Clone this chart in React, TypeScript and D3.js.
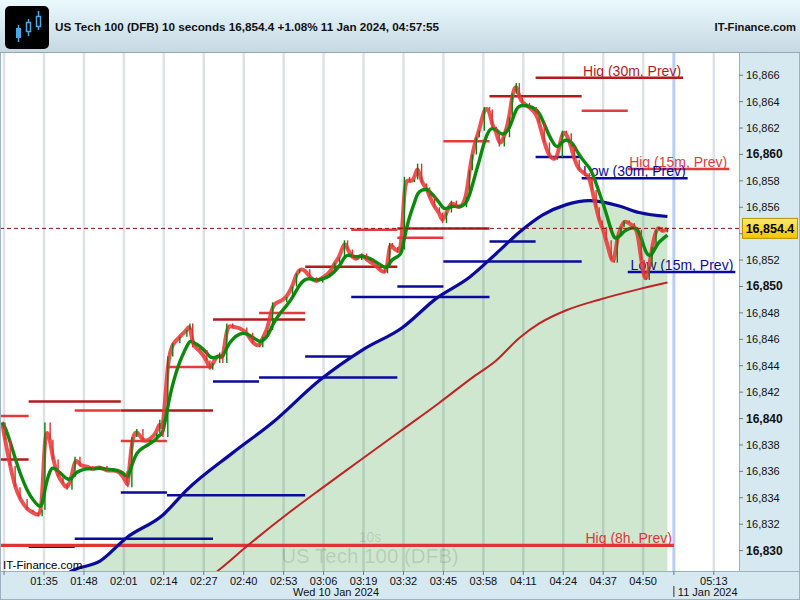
import React from 'react'
import * as d3 from 'd3'

// time values are minutes after midnight, 10 Jan 2024
const priceMinutes = [
  81.4, 82.3, 84.0, 85.6, 87.2, 89.5, 91.4, 93.1, 94.4, 95.3, 97.0, 97.9, 99.6, 101.2, 102.5, 104.1, 105.1, 106.7, 109.0, 110.9,
  113.2, 115.5, 117.4, 119.7, 122.0, 122.3, 123.6, 125.2, 127.2, 129.5, 131.7, 132.7, 133.7, 135.3, 136.9, 139.2, 141.5, 142.5, 143.4, 145.7,
  148.0, 149.0, 149.9, 152.2, 153.2, 154.5, 156.4, 158.7, 161.0,
  162.9, 165.2, 166.2, 167.8, 169.4, 171.7, 174.0, 175.9, 177.2, 178.2, 179.8, 181.5, 183.7, 185.7, 188.0, 189.6, 191.2, 192.8, 193.8, 195.4,
  196.7, 198.4, 200.0, 201.9, 204.2, 205.8, 206.8, 207.5, 208.4, 210.1, 211.4, 212.3, 214.0, 215.6, 216.6, 217.9, 219.5, 220.5, 222.1, 223.7,
  224.7, 226.0, 227.6, 229.2, 230.9, 232.5,
  233.5, 234.4, 235.7, 236.7, 238.3, 240.0, 240.9, 242.2, 243.2, 244.8, 246.5, 247.4, 248.7, 249.7, 250.7, 253.0, 255.2, 256.2, 257.8, 259.5,
  261.1, 262.1, 263.7, 265.0, 266.6, 267.6, 269.2, 270.8, 272.5, 273.4, 274.7, 275.7, 276.7, 278.0, 279.6, 280.6, 281.6, 282.8, 283.8, 285.5,
  287.1, 288.1, 289.4, 290.3, 291.0, 292.0, 292.9, 294.2, 295.2, 296.2, 297.9,
]
const priceValues = [
  16839.7, 16838.4, 16836.4, 16834.8, 16833.9, 16833.1, 16832.9, 16832.6, 16833.1, 16839.7, 16838.4, 16836.9, 16835.6, 16835.1, 16834.6, 16835.6, 16837.1, 16836.4, 16836.4, 16836.1,
  16836.4, 16836.0, 16836.1, 16836.0, 16835.1, 16834.8, 16838.6, 16839.2, 16838.2, 16838.4, 16838.9, 16839.9, 16838.6, 16844.7, 16845.7, 16846.2, 16846.7, 16847.2, 16845.4, 16845.2,
  16844.4, 16843.7, 16844.2, 16845.0, 16844.2, 16847.2, 16846.9, 16846.9, 16846.5,
  16845.7, 16845.4, 16846.2, 16846.7, 16848.8, 16848.8, 16849.2, 16850.0, 16851.0, 16851.3, 16851.3, 16850.7, 16850.3, 16850.7, 16851.0, 16851.8, 16852.2, 16853.5, 16852.8, 16852.2,
  16852.0, 16852.5, 16852.0, 16851.8, 16851.3, 16851.0, 16851.5, 16853.3, 16853.0, 16852.6, 16852.8, 16858.3, 16857.9, 16858.1, 16859.3, 16857.8, 16857.5, 16856.8, 16856.0, 16855.6,
  16854.8, 16855.6, 16856.5, 16856.0, 16856.0, 16856.8,
  16858.8, 16860.0, 16861.3, 16861.8, 16863.6, 16863.4, 16862.1, 16861.8, 16860.6, 16861.3, 16862.8, 16864.6, 16865.4, 16864.3, 16863.9, 16863.6, 16863.1, 16862.4, 16860.9, 16859.8,
  16859.6, 16859.8, 16861.8, 16861.6, 16860.6, 16859.6, 16858.8, 16858.6, 16858.3, 16857.3, 16856.0, 16855.0, 16854.5, 16853.5, 16852.0, 16851.8, 16853.8, 16854.5, 16855.0, 16854.8,
  16854.5, 16854.3, 16852.0, 16850.7, 16850.5, 16851.5, 16853.0, 16854.3, 16854.5, 16854.1, 16854.4,
]

// long moving averages (start below the visible range)
const blueMinutes = [102.2, 104.4, 113.2, 122.0, 133.7, 141.5, 156.4, 169.4, 184.7, 198.7, 211.7, 222.7, 233.5, 242.2, 249.7, 257.2, 265.0, 272.5, 282.2, 288.7, 297.9]
const blueValues = [16828.2, 16828.5, 16829.2, 16831.0, 16832.7, 16834.6, 16837.4, 16839.7, 16842.9, 16845.2, 16846.9, 16849.1, 16850.7, 16852.5, 16854.1, 16855.4, 16856.2, 16856.5, 16856.1, 16855.6, 16855.3]
const maMinutes = [149.0, 151.2, 161.9, 174.9, 184.7, 197.7, 210.7, 223.7, 234.4, 242.2, 249.7, 256.2, 265.0, 275.7, 288.7, 297.9]
const maValues = [16828.0, 16828.4, 16830.5, 16832.9, 16834.6, 16836.8, 16839.0, 16841.2, 16843.1, 16844.4, 16846.1, 16847.2, 16848.2, 16849.0, 16849.8, 16850.3]

// previous-period levels: [from, to, price, label]
const high15: [number, number, number, string?][] = [
  [75, 90, 16840.2], [105, 120, 16840.6], [120, 135, 16838.3], [135, 150, 16843.9], [165, 180, 16848.0],
  [195, 210, 16854.3], [210, 225, 16853.7], [225, 240, 16861.0], [270, 285, 16863.3], [285, 318, 16858.9, 'Hig (15m, Prev)'],
]
const high30: [number, number, number, string?][] = [
  [60, 90, 16836.9], [90, 120, 16841.3], [120, 150, 16840.6], [150, 180, 16847.5], [180, 210, 16851.5],
  [210, 240, 16854.4], [240, 270, 16864.4], [255, 303, 16865.8, 'Hig (30m, Prev)'],
]
const lows: [number, number, number, string?][] = [
  [90, 105, 16830.3], [105, 150, 16830.9], [120, 135, 16834.4], [135, 180, 16834.2], [150, 165, 16842.8],
  [165, 210, 16843.1], [180, 195, 16844.7], [195, 240, 16849.2], [210, 225, 16850.0], [225, 270, 16851.9],
  [240, 255, 16853.4], [255, 270, 16859.8], [270, 304.5, 16858.2, 'Low (30m, Prev)'], [285, 320, 16851.1, 'Low (15m, Prev)'],
]
const high8h: [number, number, number, string?][] = [[75, 300, 16830.4, 'Hig (8h, Prev)']]

const timeTicks = ['01:22', '01:35', '01:48', '02:01', '02:14', '02:27', '02:40', '02:53', '03:06', '03:19', '03:32', '03:45', '03:58', '04:11', '04:24', '04:37', '04:50', '05:13']
const priceTicks = [16830, 16832, 16834, 16836, 16838, 16840, 16842, 16844, 16846, 16848, 16850, 16852, 16854, 16856, 16858, 16860, 16862, 16864, 16866]
const dayBreak = '05:00'

const FONT = '"Liberation Sans", Arial, sans-serif'
const plotTop = 53
const plotBottom = 571
const plotRight = 739

const day = Date.UTC(2024, 0, 10)
const at = (m: number) => new Date(day + m * 60000)
const parseTime = d3.utcParse('%Y-%m-%d %H:%M')

const App = () => {
  const x = d3.scaleUtc().domain([at(80.68), at(321.2)]).range([0, plotRight])
  const y = d3.scaleLinear().domain([16830, 16866]).range([550.6, 75.2])

  const price = priceMinutes.map((m, i) => ({ t: at(m), v: priceValues[i] }))
  // slow exponential average of the closes, as the chart's green line
  let ema = priceValues[0]
  const slow = priceMinutes.map((m, i) => {
    if (i > 0) {
      const a = 1 - Math.exp(-(m - priceMinutes[i - 1]) / 3.5)
      ema = ema + a * (priceValues[i] - ema)
    }
    return { t: at(m), v: ema }
  })
  const blue = blueMinutes.map((m, i) => ({ t: at(m), v: blueValues[i] }))
  const ma = maMinutes.map((m, i) => ({ t: at(m), v: maValues[i] }))

  const line = d3.line<{ t: Date; v: number }>().x(d => x(d.t)).y(d => y(d.v)).curve(d3.curveMonotoneX)
  const smooth = d3.line<{ t: Date; v: number }>().x(d => x(d.t)).y(d => y(d.v)).curve(d3.curveBasis)
  const area = d3.area<{ t: Date; v: number }>().x(d => x(d.t)).y0(plotBottom).y1(d => y(d.v)).curve(d3.curveMonotoneX)

  const ticks = timeTicks.map(s => parseTime('2024-01-10 ' + s) as Date)
  const breakX = x(parseTime('2024-01-10 ' + dayBreak) as Date)
  const last = priceValues[priceValues.length - 1]

  const levels = (rows: [number, number, number, string?][], color: string, width: number) =>
    rows.map((r, i) => (
      <g key={i}>
        <line x1={x(at(r[0]))} x2={x(at(r[1]))} y1={y(r[2])} y2={y(r[2])} stroke={color} strokeWidth={width} />
        {r[3] && (
          <text x={x(at(r[1])) - 2} y={y(r[2]) - 2} textAnchor="end" fontSize={14} fill={color}>
            {r[3]}
          </text>
        )}
      </g>
    ))

  return (
    <svg width={800} height={600} style={{ position: 'absolute', left: 0, top: 0, fontFamily: FONT }}>
      <defs>
        <linearGradient id="hdr" x1="0" y1="0" x2="0" y2="1">
          <stop offset="0" stopColor="#eaf9fe" />
          <stop offset="1" stopColor="#c6d8e2" />
        </linearGradient>
        <linearGradient id="tag" x1="0" y1="0" x2="0" y2="1">
          <stop offset="0" stopColor="#ffe96a" />
          <stop offset="1" stopColor="#f7c400" />
        </linearGradient>
        <clipPath id="plot">
          <rect x={0} y={plotTop} width={plotRight} height={plotBottom - plotTop} />
        </clipPath>
      </defs>

      <rect width={800} height={600} fill="#fff" />

      <g clipPath="url(#plot)">
        {ticks.map((t, i) => (
          <line key={i} x1={x(t)} x2={x(t)} y1={plotTop} y2={plotBottom} stroke="#dde1e8" strokeWidth={2.5} />
        ))}
        <line x1={breakX} x2={breakX} y1={plotTop} y2={plotBottom} stroke="#b7cff7" strokeWidth={3} />

        <path d={area(blue) as string} fill="rgba(0,128,0,0.19)" />

        <text x={370} y={542} textAnchor="middle" fontSize={14} fill="#000" fillOpacity={0.12}>10s</text>
        <text x={370} y={563} textAnchor="middle" fontSize={20.5} fill="#000" fillOpacity={0.12}>US Tech 100 (DFB)</text>

        {levels(high30, '#b31b1b', 2.5)}
        {levels(high15, '#e43a3a', 2.5)}
        {levels(lows, '#0a0a9e', 2.5)}
        {levels(high8h, '#e03434', 3.2)}

        <path d={line(ma) as string} fill="none" stroke="#c42222" strokeWidth={2} />
        <path d={line(blue) as string} fill="none" stroke="#0a0a9e" strokeWidth={3.2} />

        <path d={smooth(price) as string} fill="none" stroke="#e83a3a" strokeWidth={4} strokeOpacity={0.88} strokeLinejoin="round" />
        <path d={smooth(slow) as string} fill="none" stroke="#0c8a0c" strokeWidth={3.4} strokeLinejoin="round" />
        {price.slice(1).map((d, i) => {
          const prev = price[i].v
          return (
            <line key={i} x1={x(d.t)} x2={x(d.t)} y1={y(prev)} y2={y(d.v)}
              stroke={d.v >= prev ? '#0a800a' : '#e23030'} strokeWidth={1.4} />
          )
        })}

        <text x={3} y={569} fontSize={11.5} fill="#000">IT-Finance.com</text>
      </g>

      <line x1={0} x2={745} y1={y(last)} y2={y(last)} stroke="#8b1010" strokeWidth={1} strokeDasharray="4,3" />

      {/* right price axis */}
      <rect x={plotRight} y={plotTop} width={800 - plotRight} height={600 - plotTop} fill="#d6e8f0" />
      <line x1={plotRight + 0.5} x2={plotRight + 0.5} y1={plotTop} y2={plotBottom} stroke="#9db2bf" />
      {priceTicks.map(v => (
        <g key={v}>
          <line x1={plotRight} x2={plotRight + 4} y1={y(v)} y2={y(v)} stroke="#707c84" />
          {Math.abs(y(v) - y(last)) > 12 && (
            <text x={746} y={y(v) + 4} fontSize={v % 10 === 0 ? 12 : 11} fontWeight={v % 10 === 0 ? 'bold' : 'normal'} fill="#111">
              {d3.format(',')(v)}
            </text>
          )}
        </g>
      ))}
      <rect x={742.5} y={y(last) - 10} width={55} height={20} fill="url(#tag)" stroke="#b89000" />
      <text x={770} y={y(last) + 4.5} textAnchor="middle" fontSize={12.5} fontWeight="bold" fill="#000">
        {d3.format(',.1f')(last)}
      </text>

      {/* bottom time axis */}
      <rect x={0} y={plotBottom} width={plotRight} height={600 - plotBottom} fill="#d6e8f0" />
      <line x1={0} x2={800} y1={plotBottom + 0.5} y2={plotBottom + 0.5} stroke="#9db2bf" />
      {ticks.map((t, i) => (
        <g key={i}>
          <line x1={x(t)} x2={x(t)} y1={plotBottom} y2={plotBottom + 4} stroke="#707c84" />
          {x(t) > 20 && (
            <text x={x(t)} y={585} textAnchor="middle" fontSize={11} fill="#111">
              {d3.utcFormat('%H:%M')(t)}
            </text>
          )}
        </g>
      ))}
      <line x1={breakX} x2={breakX} y1={plotBottom} y2={plotBottom + 4} stroke="#707c84" />
      <text x={336} y={596} textAnchor="middle" fontSize={11} fill="#111">Wed 10 Jan 2024</text>
      <line x1={breakX} x2={breakX} y1={586} y2={597} stroke="#333" />
      <text x={breakX + 4} y={596} fontSize={11} fill="#111">11 Jan 2024</text>
      <rect x={0.5} y={0.5} width={799} height={599} fill="none" stroke="#9db2bf" />

      {/* header */}
      <rect x={0} y={0} width={800} height={plotTop - 1} fill="url(#hdr)" />
      <line x1={0} x2={800} y1={plotTop - 0.5} y2={plotTop - 0.5} stroke="#93a8b4" />
      <rect x={5} y={6} width={44} height={43} rx={5} fill="#000" />
      <line x1={18.5} x2={18.5} y1={25} y2={42} stroke="#4aa8e6" strokeWidth={1.5} />
      <rect x={16} y={28} width={5} height={10} fill="#4aa8e6" />
      <line x1={28.5} x2={28.5} y1={19} y2={36} stroke="#4aa8e6" strokeWidth={1.5} />
      <rect x={26.5} y={22.5} width={4} height={9} fill="#000" stroke="#4aa8e6" strokeWidth={1.5} />
      <line x1={38.5} x2={38.5} y1={11} y2={30} stroke="#4aa8e6" strokeWidth={1.5} />
      <rect x={36.5} y={16.5} width={4} height={10} fill="#000" stroke="#4aa8e6" strokeWidth={1.5} />
      <text x={55} y={31} fontSize={11.7} fontWeight="bold" fill="#111">
        US Tech 100 (DFB) 10 seconds 16,854.4 +1.08% 11 Jan 2024, 04:57:55
      </text>
      <text x={796} y={31} textAnchor="end" fontSize={11.2} fontWeight="bold" fill="#111">IT-Finance.com</text>
    </svg>
  )
}

export default App
